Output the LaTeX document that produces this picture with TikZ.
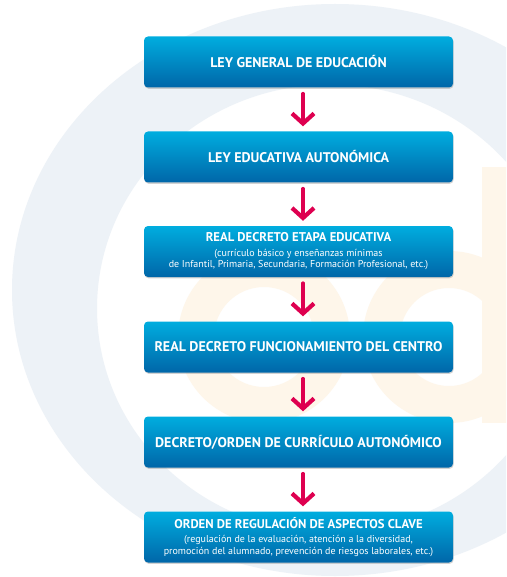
\documentclass[tikz,border=0pt]{standalone}
\usepackage{fontspec}
\setmainfont{PT Sans}
\usepackage{pgf,tikz}
\usetikzlibrary{arrows.meta}
\usetikzlibrary{shadows}
\usepackage{color}
\definecolor{azulclaro}{RGB}{0,173,223}
\definecolor{azuloscuro}{RGB}{0,102,168}
\definecolor{rojoflecha}{RGB}{222,0,80}
\definecolor{grisfondo}{RGB}{237,242,247}
\definecolor{crema}{RGB}{254,246,234}

\tikzset{
  caja/.style={rectangle,rounded corners=4pt,minimum width=309pt,minimum height=51pt,
    inner sep=0pt,top color=azulclaro,bottom color=azuloscuro,text=white,align=center,
    font=\fontsize{10}{11.7}\selectfont,
    drop shadow={opacity=0.35,shadow xshift=0.6pt,shadow yshift=-1.3pt}},
  grande/.style={font=\bfseries\fontsize{14}{16}\selectfont},
  flecha/.style={draw=rojoflecha,line width=3.6pt,shorten <=6pt,shorten >=5pt,
    -{Straight Barb[length=10pt,width=22pt,line width=4.2pt,sharp]}}
}
\newcommand{\subtit}{\bfseries\fontsize{12.7}{14}\selectfont}

\begin{document}
\begin{tikzpicture}[line cap=round,line join=round,x=1pt,y=-1pt]
\useasboundingbox (0,0) rectangle (506,577);
\fill[white] (0,0) rectangle (506,577);
\begin{scope}
\clip (0,0) rectangle (506,577);
\fill[grisfondo,even odd rule] (335,290) ellipse [x radius=323,y radius=286]
  (330,308.5) ellipse [x radius=233,y radius=224];
\fill[crema,even odd rule] (264,337) circle [radius=86] (264,337) circle [radius=50];
\fill[crema,even odd rule] (449,337) circle [radius=86] (449,337) circle [radius=49];
\fill[crema] (482,167) rectangle (530,423);
\end{scope}

\node[caja,grande] (n1) at (298.5,62) {LEY GENERAL DE EDUCACIÓN};
\node[caja,grande] (n2) at (298.5,157) {LEY EDUCATIVA AUTONÓMICA};
\node[caja] (n3) at (298.5,251.5) {{\subtit REAL DECRETO ETAPA EDUCATIVA}\\[2.5pt]
  (currículo básico y enseñanzas mínimas\\
  de Infantil, Primaria, Secundaria, Formación Profesional, etc.)};
\node[caja,grande] (n4) at (298.5,347) {REAL DECRETO FUNCIONAMIENTO DEL CENTRO};
\node[caja,grande] (n5) at (298.5,442) {DECRETO/ORDEN DE CURRÍCULO AUTONÓMICO};
\node[caja] (n6) at (298.5,537) {{\subtit ORDEN DE REGULACIÓN DE ASPECTOS CLAVE}\\[2.5pt]
  (regulación de la evaluación, atención a la diversidad,\\
  promoción del alumnado, prevención de riesgos laborales, etc.)};

\draw[flecha] ([xshift=4.5pt]n1.south) -- ([xshift=4.5pt]n2.north);
\draw[flecha] ([xshift=4.5pt]n2.south) -- ([xshift=4.5pt]n3.north);
\draw[flecha] ([xshift=4.5pt]n3.south) -- ([xshift=4.5pt]n4.north);
\draw[flecha] ([xshift=4.5pt]n4.south) -- ([xshift=4.5pt]n5.north);
\draw[flecha] ([xshift=4.5pt]n5.south) -- ([xshift=4.5pt]n6.north);
\end{tikzpicture}
\end{document}
